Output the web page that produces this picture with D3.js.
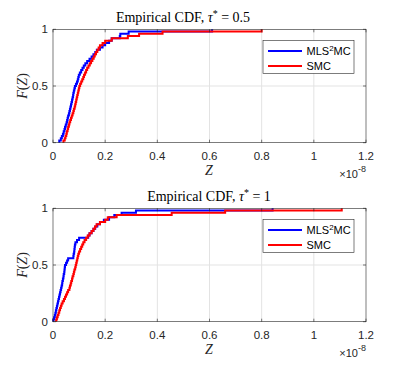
<!DOCTYPE html>
<html><head><meta charset="utf-8">
<script src="https://cdn.jsdelivr.net/npm/d3@7/dist/d3.min.js"></script>
<style>body{margin:0;background:#fff}svg{display:block}</style>
</head><body>
<svg id="c" width="405" height="379"></svg>
<script>
// Sample values (Z, in units of 1e-8)
const topBlue = [0.024,0.030,0.034,0.038,0.041,0.044,0.046,0.049,0.052,0.054,0.056,0.058,0.061,0.063,0.065,0.067,0.069,0.071,0.073,0.075,0.077,0.078,0.080,0.082,0.084,
  0.088,0.092,0.095,0.097,0.099,0.103,0.108,0.113,0.118,0.124,0.131,0.140,
  0.148,0.155,0.162,0.168,0.180,0.190,0.200,0.215,0.225,0.256,0.258,0.290,0.610];
const topRed = [0.040,0.045,0.048,0.051,0.053,0.056,0.058,0.061,0.063,0.066,
  0.069,0.072,0.075,0.078,0.080,0.083,0.085,0.087,0.089,0.091,0.093,0.095,0.097,0.099,0.101,
  0.104,0.108,0.112,0.116,0.119,0.123,0.127,0.131,0.136,0.141,0.146,0.151,
  0.156,0.160,0.165,0.170,0.175,0.180,0.190,0.200,0.225,0.287,0.330,0.420,0.800];
const botBlue = [0.001,0.004,0.007,0.009,0.011,0.013,0.015,0.017,0.019,0.021,0.023,0.025,0.027,0.029,0.031,0.033,0.035,0.036,0.038,0.040,0.041,0.043,0.044,0.045,0.046,
  0.050,0.054,0.058,0.078,0.079,0.081,0.082,0.083,0.084,0.086,
  0.092,0.100,0.135,0.140,0.148,0.155,0.162,0.170,0.180,0.195,0.215,0.235,0.263,0.318,0.842];
const botRed = [0.012,0.015,0.018,0.021,0.024,0.027,0.030,0.033,
  0.037,0.042,0.046,0.050,0.054,0.058,0.063,
  0.065,0.068,0.070,0.073,0.075,0.078,0.080,0.082,0.085,0.087,
  0.089,0.091,0.093,0.095,0.097,0.100,0.104,0.108,0.112,0.116,
  0.121,0.127,0.133,0.140,0.148,0.155,0.161,0.167,0.180,0.200,0.210,0.244,0.455,0.660,1.107];
const xTicks = [0,0.2,0.4,0.6,0.8,1,1.2];
const xTickLabels = ["0","0.2","0.4","0.6","0.8","1","1.2"];
const yTicks = [0,0.5,1];
const yTickLabels = ["0","0.5","1"];
const seriesNames = ["MLS\u00B2MC","SMC"];
const seriesColors = ["#0000ff","#ff0000"];
const tauValues = ["0.5","1"];

const svg = d3.select("#c");
const axisCol = "#262626";
const sans = "Liberation Sans, Arial, sans-serif";
const serif = "Liberation Serif, Times New Roman, serif";

function ecdf(vals){
  const s = vals.slice().sort(d3.ascending), n = s.length;
  const pts = [[s[0],0]];
  s.forEach((v,i)=>{ pts.push([v,(i+1)/n]); });
  return pts;
}

function panel(top, blue, red, tau, titleCx){
  const L=53, R=366, T=top, B=top+113.4;
  const x = d3.scaleLinear().domain([0,1.2]).range([L,R]);
  const y = d3.scaleLinear().domain([0,1]).range([B,T]);
  const g = svg.append("g");
  g.selectAll(".gx").data(xTicks.slice(1,-1)).join("line")
    .attr("x1",d=>x(d)).attr("x2",d=>x(d)).attr("y1",T).attr("y2",B)
    .attr("stroke","#e3e3e3").attr("stroke-width",1);
  g.selectAll(".gy").data(yTicks.slice(1,-1)).join("line")
    .attr("x1",L).attr("x2",R).attr("y1",d=>y(d)).attr("y2",d=>y(d))
    .attr("stroke","#e3e3e3").attr("stroke-width",1);
  const line = d3.line().x(d=>x(d[0])).y(d=>y(d[1])).curve(d3.curveStepAfter);
  [blue,red].forEach((vals,i)=>{
    g.append("path").attr("d",line(ecdf(vals))).attr("fill","none")
      .attr("stroke",seriesColors[i]).attr("stroke-width",2);
  });
  g.append("rect").attr("x",L).attr("y",T).attr("width",R-L).attr("height",B-T)
    .attr("fill","none").attr("stroke",axisCol).attr("stroke-width",0.6);
  const tl=3;
  xTicks.forEach(t=>{
    g.append("line").attr("x1",x(t)).attr("x2",x(t)).attr("y1",B).attr("y2",B-tl).attr("stroke",axisCol).attr("stroke-width",0.6);
    g.append("line").attr("x1",x(t)).attr("x2",x(t)).attr("y1",T).attr("y2",T+tl).attr("stroke",axisCol).attr("stroke-width",0.6);
  });
  yTicks.forEach(t=>{
    g.append("line").attr("x1",L).attr("x2",L+tl).attr("y1",y(t)).attr("y2",y(t)).attr("stroke",axisCol).attr("stroke-width",0.6);
    g.append("line").attr("x1",R).attr("x2",R-tl).attr("y1",y(t)).attr("y2",y(t)).attr("stroke",axisCol).attr("stroke-width",0.6);
  });
  g.selectAll(".xl").data(xTicks).join("text")
    .attr("x",d=>x(d)).attr("y",B+17.5).attr("text-anchor","middle")
    .attr("font-family",sans).attr("font-size",11.5).attr("fill",axisCol)
    .text((d,i)=>xTickLabels[i]);
  g.selectAll(".yl").data(yTicks).join("text")
    .attr("x",L-5).attr("y",d=>y(d)+4).attr("text-anchor","end")
    .attr("font-family",sans).attr("font-size",11.5).attr("fill",axisCol)
    .text((d,i)=>yTickLabels[i]);
  const ex = g.append("text").attr("x",R).attr("y",B+35.5).attr("text-anchor","end")
    .attr("font-family",sans).attr("font-size",11).attr("fill",axisCol);
  ex.append("tspan").text("\u00D710");
  ex.append("tspan").attr("dy",-6).attr("font-size",9).text("-8");
  g.append("text").attr("x",209).attr("y",B+32).attr("text-anchor","middle")
    .attr("font-family",serif).attr("font-style","italic")
    .attr("font-size",14).attr("fill",axisCol).text("Z");
  const yl = g.append("text").attr("transform",`translate(27,${(T+B)/2}) rotate(-90)`)
    .attr("text-anchor","middle").attr("font-family",serif)
    .attr("font-size",14).attr("fill",axisCol);
  yl.append("tspan").attr("font-style","italic").text("F");
  yl.append("tspan").text("(");
  yl.append("tspan").attr("font-style","italic").text("Z");
  yl.append("tspan").text(")");
  const tt = g.append("text").attr("x",titleCx).attr("y",T-7.5).attr("text-anchor","middle")
    .attr("font-family",serif).attr("font-size",14).attr("fill","#000");
  tt.append("tspan").text("Empirical CDF, ");
  tt.append("tspan").attr("font-style","italic").text("\u03C4");
  tt.append("tspan").attr("dy",-5).attr("font-size",10).text("*");
  tt.append("tspan").attr("dy",5).text(" = " + tau);
  const lx=263, ly=T+11, lw=91, lh=33;
  g.append("rect").attr("x",lx).attr("y",ly).attr("width",lw).attr("height",lh)
    .attr("fill","#fff").attr("stroke",axisCol).attr("stroke-width",0.6);
  seriesNames.forEach((nm,i)=>{
    const yy = ly+10.7+i*15;
    g.append("line").attr("x1",lx+5).attr("x2",lx+39).attr("y1",yy).attr("y2",yy)
      .attr("stroke",seriesColors[i]).attr("stroke-width",2);
    const t = g.append("text").attr("x",lx+43.5).attr("y",yy+4)
      .attr("font-family",sans).attr("font-size",11).attr("fill","#000");
    if(i===0){
      t.append("tspan").text("MLS");
      t.append("tspan").attr("dy",-4.5).attr("font-size",8).text("2");
      t.append("tspan").attr("dy",4.5).text("MC");
    } else t.text(nm);
  });
}

panel(29.3, topBlue, topRed, tauValues[0], 183);
panel(208.3, botBlue, botRed, tauValues[1], 209);
</script>
</body></html>
